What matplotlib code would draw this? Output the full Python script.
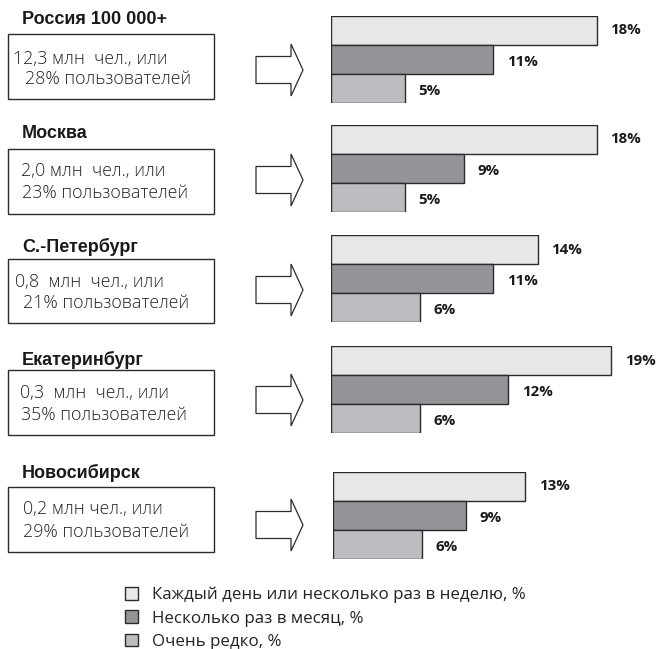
import matplotlib
matplotlib.use("Agg")
import matplotlib.pyplot as plt
from matplotlib.patches import Rectangle, Polygon

# ---------------- data ----------------
regions = ['Россия 100 000+', 'Москва', 'С.-Петербург', 'Екатеринбург', 'Новосибирск']
box_line1 = ['12,3 млн  чел., или', '2,0 млн  чел., или', '0,8  млн  чел., или',
             '0,3  млн  чел., или', '0,2 млн чел., или']
box_line2 = ['28% пользователей', '23% пользователей', '21% пользователей',
             '35% пользователей', '29% пользователей']
daily_weekly = [18, 18, 14, 19, 13]
monthly = [11, 9, 11, 12, 9]
rarely = [5, 5, 6, 6, 6]
series_labels = ['Каждый день или несколько раз в неделю, %',
                 'Несколько раз в месяц, %',
                 'Очень редко, %']

# ---------------- style / layout ----------------
colors = ['#e6e7e8', '#949598', '#bcbdc0']
edge = '#2b2b2b'
W, H = 658, 649
title_y = [19, 134, 247, 360, 473]
box_top = [34, 149, 259, 370, 487]
box_h = [65, 65, 64, 65, 65]
line1_x = [13, 21, 15, 20, 23]
line2_x = [25, 22, 23, 21, 23]
line1_dy = [25, 22, 23, 23, 22]
line2_dy = [45, 44, 44, 45, 45]
bars_top = [16, 125, 235, 346, 472]
arrow_cy = [70, 180, 290, 400, 525]
bar_x0 = [331, 331, 331, 331, 333]
bar_row_h = 29
px_per_pct = 14.76

plt.rcParams['font.family'] = ['Open Sans', 'DejaVu Sans']

fig = plt.figure(figsize=(W / 100, H / 100), dpi=100)


def fx(px):
    return px / W


def fy(py):
    return 1 - py / H


handles = None
for i, region in enumerate(regions):
    # title
    fig.text(fx(22), fy(title_y[i]), region, fontsize=13, fontweight='bold',
             ha='left', va='center', color='#1a1a1a',
             family=['Liberation Sans', 'DejaVu Sans'])
    # text box
    bt, bh = box_top[i], box_h[i]
    fig.patches.append(Rectangle((fx(8), fy(bt + bh)), fx(214) - fx(8), bh / H,
                                 transform=fig.transFigure, facecolor='white',
                                 edgecolor=edge, linewidth=1.0))
    fig.text(fx(line1_x[i]), fy(bt + line1_dy[i]), box_line1[i], fontsize=12.8,
             fontweight='light', ha='left', va='center', color='#222222')
    fig.text(fx(line2_x[i]), fy(bt + line2_dy[i]), box_line2[i], fontsize=12.8,
             fontweight='light', ha='left', va='center', color='#222222')
    # arrow
    cy = arrow_cy[i]
    pts = [(256, cy - 13.5), (291, cy - 13.5), (291, cy - 26), (303, cy),
           (291, cy + 26), (291, cy + 13.5), (256, cy + 13.5)]
    fig.patches.append(Polygon([(fx(x), fy(y)) for x, y in pts], closed=True,
                               transform=fig.transFigure, facecolor='white',
                               edgecolor=edge, linewidth=0.9))
    # bars
    x0 = bar_x0[i]
    ax = fig.add_axes([fx(x0), fy(bars_top[i] + 3 * bar_row_h), (W - x0) / W,
                       3 * bar_row_h / H])
    vals = [daily_weekly[i], monthly[i], rarely[i]]
    bars = ax.barh([0, 1, 2], vals, height=1.0, color=colors, edgecolor=edge,
                   linewidth=1.0)
    if handles is None:
        handles = list(bars)
    ax.set_xlim(0, (W - x0) / px_per_pct)
    ax.set_ylim(2.5, -0.5)
    ax.axis('off')
    for j, v in enumerate(vals):
        ax.annotate(f'{v}%', xy=(v, j), xytext=(10, -1.5 if j else 0),
                    textcoords='offset points', ha='left', va='center',
                    fontsize=10.8, fontweight='bold', color='#1a1a1a')

leg = fig.legend(handles, series_labels, loc='upper left',
                 bbox_to_anchor=(fx(118), fy(580)), frameon=False,
                 fontsize=12.2, handlelength=0.77, handleheight=0.77,
                 handletextpad=0.83, labelspacing=0.42, borderaxespad=0)
for t in leg.get_texts():
    t.set_color('#222222')

fig.savefig('out.png', dpi=100)
